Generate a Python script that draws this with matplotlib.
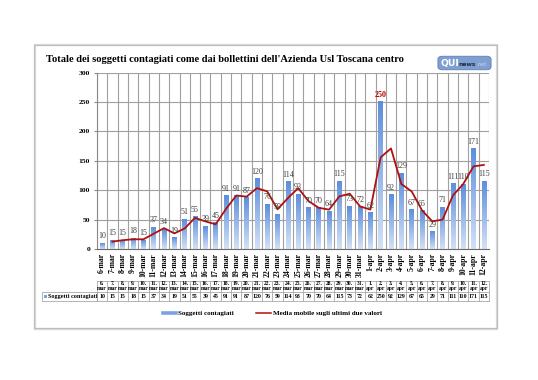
import numpy as np
import pandas as pd
import matplotlib
matplotlib.use("Agg")
import matplotlib.pyplot as plt
import matplotlib.transforms as mtransforms
from matplotlib.patches import Rectangle, FancyBboxPatch
from matplotlib.lines import Line2D
from matplotlib.colors import LinearSegmentedColormap

days_mar = list(range(6, 32))
days_apr = list(range(1, 13))
dates = [f"{d}-mar" for d in days_mar] + [f"{d}-apr" for d in days_apr]
table_hdr = [f"{d}.\nmar" for d in days_mar] + [f"{d}.\napr" for d in days_apr]
values = [10, 15, 15, 18, 15, 37, 34, 19, 51, 55, 39, 45, 91, 91, 87, 120, 76, 59,
          114, 93, 70, 70, 64, 115, 73, 72, 62, 250, 92, 129, 67, 65, 29, 71, 111,
          110, 171, 115]
moving_avg = pd.Series(values, dtype=float).rolling(2).mean().tolist()
yticks = [0, 50, 100, 150, 200, 250, 300]
title = "Totale dei soggetti contagiati come dai bollettini dell'Azienda Usl Toscana centro"
series_name = "Soggetti contagiati"
line_name = "Media mobile sugli ultimi due valori"

W, H = 538, 380
fig = plt.figure(figsize=(W / 100, H / 100), dpi=100)
fig.patch.set_facecolor("white")

def fx(px):
    return px / W

def fy(py):
    return 1 - py / H

SERIF = ["Liberation Serif", "DejaVu Serif"]

# outer chart border
fig.patches.append(Rectangle((fx(35), fy(329)), fx(497) - fx(35), fy(45) - fy(329),
                             transform=fig.transFigure, facecolor="none",
                             edgecolor="#d8d8d8", lw=1.6, zorder=-2))
fig.patches.append(Rectangle((fx(34), fy(328)), fx(497) - fx(34), fy(45) - fy(328),
                             transform=fig.transFigure, facecolor="none",
                             edgecolor="#bdbdbd", lw=0.8, zorder=-1))

left, right, top, bottom = 97, 489, 72.6, 249
ax = fig.add_axes([fx(left), fy(bottom), fx(right) - fx(left), fy(top) - fy(bottom)])
ax.set_facecolor("none")
ax.set_zorder(2)
n = len(values)
x = np.arange(n)

# gridlines
for yv in yticks:
    ax.axhline(yv, color="#a0a0a0", lw=0.8, zorder=1)
for b in np.arange(-0.5, n, 1.0):
    ax.axvline(b, color="#a0a0a0", lw=0.8, zorder=1)

# gradient bars
cmap = LinearSegmentedColormap.from_list("bb", ["#d3e1f6", "#5d8fdc"])
grad = np.linspace(0, 1, 64).reshape(-1, 1)
bw = 0.45
for xi, v in zip(x, values):
    ax.imshow(grad, extent=[xi - bw / 2, xi + bw / 2, 0, v], origin="lower",
              aspect="auto", cmap=cmap, zorder=2)
ax.set_xlim(-0.5, n - 0.5)
ax.set_ylim(0, 300)

# moving average
ax.plot(x, moving_avg, color="#b01010", lw=1.3, zorder=4)

# data labels
for xi, v in zip(x, values):
    col = "#c00000" if v == max(values) else "#404040"
    wt = "bold" if v == max(values) else "normal"
    ax.text(xi, v + 5, str(v), ha="center", va="bottom", fontsize=5.8,
            family=SERIF, color=col, fontweight=wt, zorder=5)

for s in ["top", "right"]:
    ax.spines[s].set_visible(False)
ax.spines["left"].set_color("#8a8a8a")
ax.spines["bottom"].set_color("#6a6a6a")
ax.set_yticks(yticks)
ax.set_yticklabels([str(t) for t in yticks], fontsize=5.4, fontweight="bold",
                   family=SERIF)
ax.tick_params(axis="y", length=2, color="#8a8a8a", pad=3)
ax.set_xticks(x)
ax.set_xticklabels(dates, rotation=90, fontsize=5.6, fontweight="bold",
                   family=SERIF, va="top", ha="center")
ax.tick_params(axis="x", length=0, pad=3)

# data table
tr = mtransforms.blended_transform_factory(ax.transData, fig.transFigure)
r0, r1, r2 = 281, 291.5, 301
gcol = "#a8a8a8"
for yy in (r0, r1, r2):
    fig.lines.append(Line2D([-0.5, n - 0.5], [fy(yy), fy(yy)], transform=tr,
                            color=gcol, lw=0.6))
for b in np.arange(-0.5, n, 1.0):
    fig.lines.append(Line2D([b, b], [fy(r0), fy(r2)], transform=tr, color=gcol, lw=0.6))
for xi, h, v in zip(x, table_hdr, values):
    fig.text(xi, fy((r0 + r1) / 2), h, transform=tr, ha="center", va="center",
             fontsize=4.0, fontweight="bold", family=SERIF, linespacing=0.9)
    fig.text(xi, fy((r1 + r2) / 2), str(v), transform=tr, ha="center", va="center",
             fontsize=4.2, fontweight="bold", family=SERIF)
# row label cell
fig.patches.append(Rectangle((fx(42), fy(r2)), fx(left) - fx(42), fy(r1) - fy(r2),
                             transform=fig.transFigure, facecolor="none",
                             edgecolor=gcol, lw=0.6))
fig.patches.append(Rectangle((fx(44), fy(297.5)), fx(2.5), fy(295) - fy(297.5),
                             transform=fig.transFigure, facecolor="#7aa2e2",
                             edgecolor="none"))
fig.text(fx(48), fy((r1 + r2) / 2), series_name, ha="left", va="center",
         fontsize=4.4, fontweight="bold", family=SERIF)

# legend
ly = fy(313)
fig.lines.append(Line2D([fx(163), fx(176)], [ly, ly], transform=fig.transFigure,
                        color="#7aa2e2", lw=2.6))
fig.text(fx(178), ly, series_name, ha="left", va="center", fontsize=5.0,
         fontweight="bold", family=SERIF)
fig.lines.append(Line2D([fx(256), fx(271)], [ly, ly], transform=fig.transFigure,
                        color="#b01010", lw=1.1))
fig.text(fx(273), ly, line_name, ha="left", va="center", fontsize=5.0,
         fontweight="bold", family=SERIF)

# title
fig.text(fx(46), fy(60), title, ha="left", va="center", fontsize=7.6,
         fontweight="bold", family=SERIF)

# logo
fig.patches.append(FancyBboxPatch((fx(439), fy(69)), fx(490) - fx(439), fy(57) - fy(69),
                                  boxstyle="round,pad=0.002,rounding_size=0.008",
                                  transform=fig.transFigure, facecolor="#7f9fd0",
                                  edgecolor="#5f7fb5", lw=0.6))
fig.text(fx(440.5), fy(63.5), "QUI", ha="left", va="center", fontsize=6.6,
         fontweight="bold", color="white", family="DejaVu Sans")
fig.text(fx(458.5), fy(64), "news", ha="left", va="center", fontsize=4.3,
         fontweight="bold", color="#1c2a4a", family="DejaVu Sans")
fig.text(fx(476.5), fy(64), ".net", ha="left", va="center", fontsize=3.8,
         color="#c8d6ee", family="DejaVu Sans")

fig.savefig("out.png", dpi=100, facecolor="white")
